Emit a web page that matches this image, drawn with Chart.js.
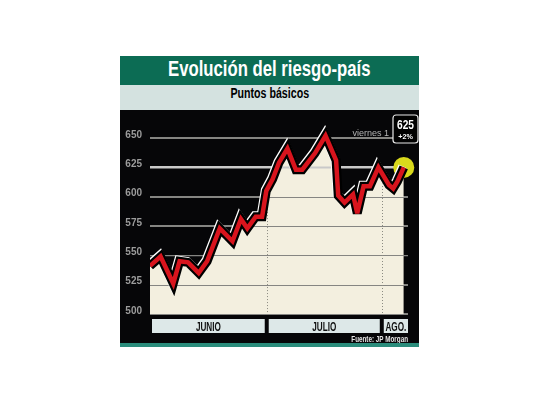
<!DOCTYPE html>
<html>
<head>
<meta charset="utf-8">
<script src="https://cdn.jsdelivr.net/npm/chart.js@4.4.1/dist/chart.umd.min.js"></script>
<style>
    body { margin: 0; background: #fff; width: 540px; height: 405px; overflow: hidden; }
    #frame { position: absolute; left: 120px; top: 56px; width: 299px; }
    #title {
        height: 29px; line-height: 29px; background: #0c6c54; color: #fff;
        text-align: center; font: bold 22px "Liberation Sans", Arial, sans-serif;
        overflow: hidden;
    }
    #title span { display: inline-block; transform: scaleX(0.76); white-space: nowrap; }
    #subtitle {
        height: 25px; line-height: 25px; background: #d4e2e0; color: #000;
        text-align: center; font: bold 14px "Liberation Sans", Arial, sans-serif;
    }
    #subtitle span { display: inline-block; transform: scaleX(0.76); white-space: nowrap; }
    #plot { height: 233px; background: #060608; }
    #plot canvas { display: block; }
    #rule { height: 4px; background: #2a8c7b; }
</style>
</head>
<body>
<div id="frame">
    <div id="title"><span>Evolución del riesgo-país</span></div>
    <div id="subtitle"><span>Puntos básicos</span></div>
    <div id="plot"><canvas id="riskChart" width="299" height="233"></canvas></div>
    <div id="rule"></div>
</div>

<script>
// ===== Data =====
// position of each reading along the period (0 = start of June, 61 = end of axis)
const days = [0, 2.5, 5.5, 7, 9, 11.5, 13.5, 16.5, 19.5, 21.5, 23, 25, 26.5, 27.5, 29, 30.5,
              32.5, 34.5, 36, 39, 41.5, 44, 44.5, 46, 48, 49, 50.5, 52, 54, 56.5, 57.5, 58.5, 60];
const values = [541, 549, 526, 545, 544, 535, 545, 573, 562, 581, 573, 583, 583, 605, 615, 629,
                641, 623, 623, 637, 652, 631, 601, 595, 602, 586, 609, 609, 625, 610, 607, 613, 625];
const yTicks = [500, 525, 550, 575, 600, 625, 650];
const months = ['JUNIO', 'JULIO', 'AGO.'];
const monthStarts = [0, 27.6, 54.8];
const monthEnds = [27.6, 54.8, 61];
const lastLabel = 'viernes 1';
const lastValue = '625';
const lastChange = '+2%';
const source = 'Fuente: JP Morgan';

const points = days.map((d, i) => ({ x: d, y: values[i] }));

// line value at a given position (for the dotted month separators)
function valueAt(pos) {
    for (let i = 1; i < days.length; i++) {
        if (pos <= days[i]) {
            const t = (pos - days[i - 1]) / (days[i] - days[i - 1]);
            return values[i - 1] + t * (values[i] - values[i - 1]);
        }
    }
    return values[values.length - 1];
}

function condensedText(ctx, text, x, y, scale, align) {
    ctx.save();
    ctx.translate(x, y);
    ctx.scale(scale, 1);
    ctx.textAlign = align;
    ctx.fillText(text, 0, 0);
    ctx.restore();
}

// ===== Drawing extras =====
const extrasPlugin = {
    id: 'extras',
    beforeDatasetDraw(chart, args) {
        const ctx = chart.ctx;
        ctx.save();
        ctx.miterLimit = 3;
        if (args.index === 1) {
            // white edge around the black outline
            ctx.shadowColor = '#ffffff';
            ctx.shadowOffsetX = -1;
            ctx.shadowOffsetY = -1;
            ctx.shadowBlur = 0;
        }
    },
    afterDatasetDraw(chart, args) {
        const ctx = chart.ctx;
        ctx.restore();
        if (args.index !== 2) return;

        const area = chart.chartArea;
        const xs = chart.scales.x;
        const ys = chart.scales.y;

        // gridlines again, on top of the cream fill
        ctx.save();
        ys.ticks.forEach(t => {
            const py = Math.round(ys.getPixelForValue(t.value)) + 0.5;
            ctx.strokeStyle = t.value === 625 ? '#c9c9c9' : '#858582';
            ctx.lineWidth = t.value === 625 ? 2 : 1.2;
            ctx.beginPath();
            ctx.moveTo(area.left, py);
            ctx.lineTo(area.right, py);
            ctx.stroke();
        });

        // dotted month separators
        ctx.strokeStyle = '#8a8a80';
        ctx.lineWidth = 1;
        ctx.setLineDash([1, 2]);
        monthStarts.slice(1).forEach(m => {
            const px = Math.round(xs.getPixelForValue(m)) + 0.5;
            const py = ys.getPixelForValue(valueAt(m)) + 7;
            ctx.beginPath();
            ctx.moveTo(px, py);
            ctx.lineTo(px, area.bottom);
            ctx.stroke();
        });
        ctx.setLineDash([]);

        // yellow marker behind the last reading
        const lx = xs.getPixelForValue(days[days.length - 1]);
        const ly = ys.getPixelForValue(values[values.length - 1]);
        ctx.fillStyle = '#d9d91c';
        ctx.beginPath();
        ctx.arc(lx, ly, 10.5, 0, Math.PI * 2);
        ctx.fill();
        ctx.restore();
    },
    afterDraw(chart) {
        const ctx = chart.ctx;
        const area = chart.chartArea;
        const xs = chart.scales.x;
        ctx.save();

        // month band
        months.forEach((m, i) => {
            const x0 = xs.getPixelForValue(monthStarts[i]) + 2;
            const x1 = i === months.length - 1 ? area.right : xs.getPixelForValue(monthEnds[i]) - 2;
            ctx.fillStyle = '#dde8e8';
            ctx.fillRect(x0, area.bottom + 5, x1 - x0, 14);
            ctx.fillStyle = '#111';
            ctx.font = 'bold 12px "Liberation Sans", Arial, sans-serif';
            ctx.textBaseline = 'alphabetic';
            condensedText(ctx, m, (x0 + x1) / 2, area.bottom + 17, 0.68, 'center');
        });

        // source
        ctx.fillStyle = '#e6e6e6';
        ctx.font = 'bold 9px "Liberation Sans", Arial, sans-serif';
        condensedText(ctx, source, area.right, area.bottom + 28, 0.7, 'right');

        // last value callout
        ctx.fillStyle = '#b4b4b4';
        ctx.font = '9px "Liberation Sans", Arial, sans-serif';
        ctx.textAlign = 'right';
        ctx.fillText(lastLabel, area.right - 19, 26);

        const bx = area.right - 15, by = 5, bw = 25, bh = 28;
        ctx.beginPath();
        ctx.roundRect(bx, by, bw, bh, 3);
        ctx.fillStyle = '#000';
        ctx.fill();
        ctx.strokeStyle = '#e8e8e8';
        ctx.lineWidth = 1.2;
        ctx.stroke();
        ctx.fillStyle = '#fff';
        ctx.font = 'bold 12px "Liberation Sans", Arial, sans-serif';
        condensedText(ctx, lastValue, bx + bw / 2, by + 14, 0.85, 'center');
        ctx.font = 'bold 8px "Liberation Sans", Arial, sans-serif';
        condensedText(ctx, lastChange, bx + bw / 2, by + 24, 0.9, 'center');
        ctx.restore();
    }
};

// ===== Chart =====
const riskCtx = document.getElementById('riskChart');
new Chart(riskCtx, {
    type: 'line',
    data: {
        datasets: [{
            label: 'Riesgo país',
            data: points,
            borderColor: '#d8141d',
            borderWidth: 4.5,
            borderJoinStyle: 'miter',
            pointRadius: 0,
            fill: false,
            tension: 0,
            order: 0
        }, {
            label: 'outline',
            data: points,
            borderColor: '#000000',
            borderWidth: 9,
            borderJoinStyle: 'miter',
            pointRadius: 0,
            fill: false,
            tension: 0,
            order: 1
        }, {
            label: 'area',
            data: points,
            borderWidth: 0,
            backgroundColor: '#f3efdf',
            pointRadius: 0,
            fill: 'start',
            tension: 0,
            order: 2
        }]
    },
    options: {
        responsive: false,
        animation: false,
        events: [],
        layout: { padding: { top: 1, right: 11, bottom: 29, left: 0 } },
        plugins: {
            legend: { display: false },
            tooltip: { enabled: false }
        },
        scales: {
            x: {
                type: 'linear',
                display: false,
                min: 0,
                max: 61
            },
            y: {
                min: 500,
                max: 662,
                afterBuildTicks: scale => { scale.ticks = yTicks.map(v => ({ value: v })); },
                afterFit: scale => { scale.width = 30; },
                border: { display: false },
                grid: {
                    drawTicks: false,
                    color: c => c.tick && c.tick.value === 625 ? '#c9c9c9' : '#858582',
                    lineWidth: c => c.tick && c.tick.value === 625 ? 2 : 1.2
                },
                ticks: {
                    padding: 8,
                    labelOffset: -3,
                    color: '#9c9c9c',
                    font: { family: '"Liberation Sans", Arial, sans-serif', size: 10, weight: 'bold' }
                }
            }
        }
    },
    plugins: [extrasPlugin]
});
</script>
</body>
</html>
